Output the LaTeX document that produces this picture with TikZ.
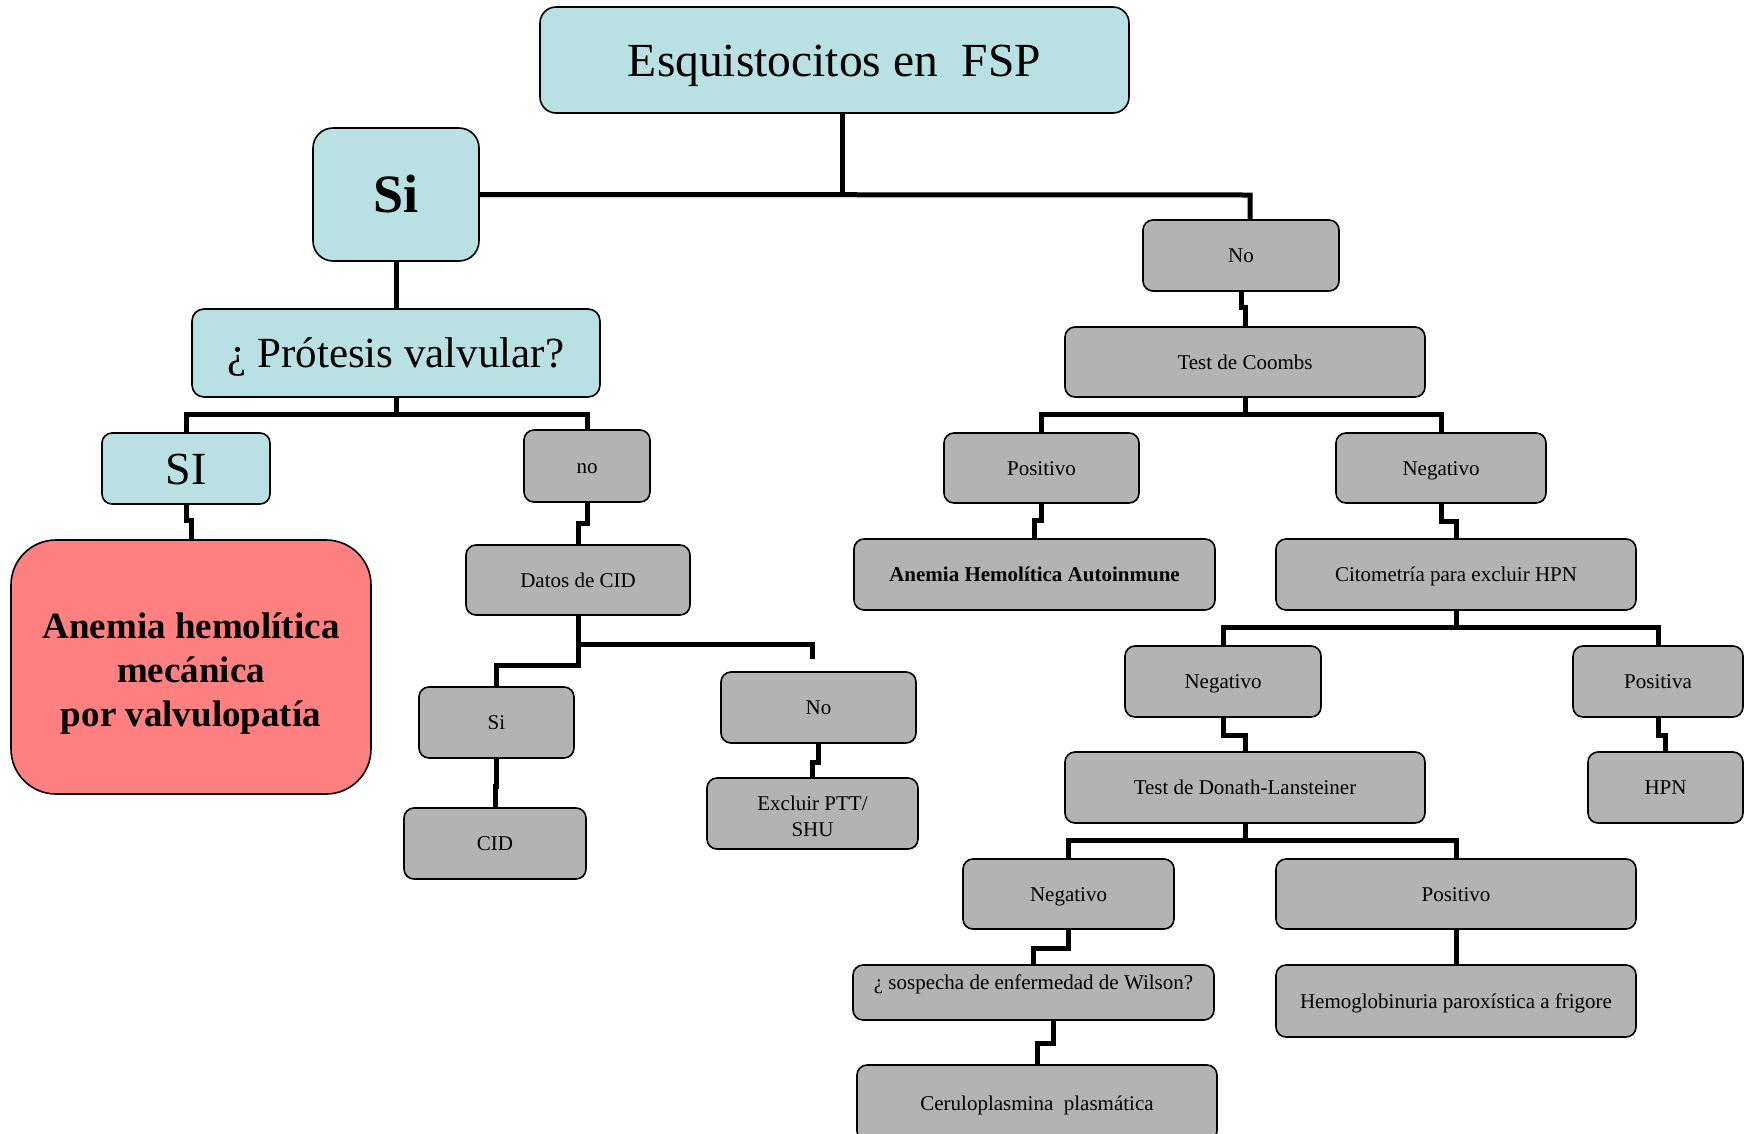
\documentclass[tikz,border=0pt]{standalone}
\usepackage{fontspec}
\setmainfont{Liberation Serif}
\usetikzlibrary{calc}
\definecolor{boxblue}{RGB}{185,224,227}
\definecolor{boxgray}{RGB}{179,179,179}
\definecolor{boxred}{RGB}{255,128,128}
% strut that gives a single line the full ascent/descent of the font
\newcommand{\linestrut}{\rule[-0.216em]{0pt}{1.107em}}

\begin{document}
\begin{tikzpicture}[x=1pt,y=-1pt,
  base/.style={draw=black, line width=1.6pt, inner sep=0pt, align=center,
    font=\fontsize{21}{26}\selectfont},
  line/.style={execute at begin node=\linestrut},
  graybox/.style={base, line, fill=boxgray, rounded corners=10pt},
  bluebox/.style={base, line, fill=boxblue, rounded corners=10pt},
  redbox/.style={base, fill=boxred, rounded corners=45pt},
  plain/.style={inner sep=0pt, align=center, font=\fontsize{21}{26}\selectfont},
  conn/.style={draw=black, line width=5pt, line join=miter}
]
\fill[white] (0,0) rectangle (1749,1133);
\useasboundingbox (0,0) rectangle (1749,1133);

% ---- left branch ----
\node[bluebox, rounded corners=16pt, minimum width=589, minimum height=106,
      font=\fontsize{47.5}{56}\selectfont] (title) at (834.5,60) {Esquistocitos en\ \ FSP};
\node[bluebox, rounded corners=20pt, minimum width=166, minimum height=133,
      font=\fontsize{54}{60}\selectfont\bfseries] (si) at (396,194.5) {Si};
\node[bluebox, rounded corners=12pt, minimum width=408, minimum height=88,
      font=\fontsize{43}{50}\selectfont] (pro) at (396,353) {¿ Prótesis valvular?};
\node[bluebox, minimum width=168, minimum height=71,
      font=\fontsize{46}{52}\selectfont] (SI) at (186,468.5) {SI};
\node[redbox, minimum width=360, minimum height=254] (red) at (191,667) {};
\node[plain, font=\fontsize{37}{44}\selectfont\bfseries] (redtext) at (191,674)
      {Anemia hemolítica\\mecánica\\por valvulopatía};
\node[graybox, minimum width=126, minimum height=72] (no) at (587,466) {no};
\node[graybox, minimum width=224, minimum height=70] (datos) at (578,580) {Datos de CID};
\node[graybox, minimum width=155, minimum height=71] (sis) at (496.5,722.5) {Si};
\node[graybox, minimum width=182, minimum height=71] (cid) at (495,843.5) {CID};
\node[graybox, minimum width=195, minimum height=71] (nos) at (818.5,707.5) {No};
\node[base, fill=boxgray, rounded corners=10pt, minimum width=211, minimum height=71] (exc) at (812.5,813.5) {};
\node[plain] (exctext) at (812.5,816) {Excluir PTT/\\SHU};

% ---- right branch ----
\node[graybox, minimum width=196, minimum height=71] (No) at (1241,255.5) {No};
\node[graybox, minimum width=360, minimum height=70] (coombs) at (1245,362) {Test de Coombs};
\node[graybox, minimum width=195, minimum height=70] (pos) at (1041.5,468) {Positivo};
\node[graybox, minimum width=210, minimum height=70] (neg) at (1441,468) {Negativo};
\node[graybox, minimum width=361, minimum height=71, font=\fontsize{21}{26}\selectfont\bfseries]
      (aha) at (1034.5,574.5) {Anemia Hemolítica Autoinmune};
\node[graybox, minimum width=360, minimum height=71] (cit) at (1456,574.5) {Citometría para excluir HPN};
\node[graybox, minimum width=196, minimum height=71] (neg2) at (1223,681.5) {Negativo};
\node[graybox, minimum width=170, minimum height=71] (posa) at (1658,681.5) {Positiva};
\node[graybox, minimum width=360, minimum height=71] (don) at (1245,787.5) {Test de Donath-Lansteiner};
\node[graybox, minimum width=155, minimum height=71] (hpn) at (1665.5,787.5) {HPN};
\node[graybox, minimum width=211, minimum height=70] (neg3) at (1068.5,894) {Negativo};
\node[graybox, minimum width=360, minimum height=70] (pos3) at (1456,894) {Positivo};
\node[graybox, minimum width=361, minimum height=55] (wil) at (1033.5,992.5) {};
\node[plain, line] (wiltext) at (1033.5,982) {¿ sospecha de enfermedad de Wilson?};
\node[graybox, minimum width=360, minimum height=72] (hem) at (1456,1001) {Hemoglobinuria paroxística a frigore};
\node[graybox, minimum width=360, minimum height=76] (cer) at (1037,1103) {Ceruloplasmina\ \ plasmática};

% ---- connectors ----
\coordinate (tv) at (842,0);
\coordinate (noR) at (1250,195);
\draw[conn] (tv |- title.south) -- (tv |- si.east);
\draw[conn] (si.east) -- (noR) -- (noR |- No.north);
\draw[conn] (si.south) -- (pro.north);

\draw[conn] (pro.south) -- ++(0,17) coordinate (pj);
\draw[conn] (SI.north) |- (pj) -| (no.north);
\draw[conn] (SI.south) -- ++(0,16) -| (red.north);
\draw[conn] (no.south) -- ++(0,21) -| (datos.north);

\coordinate (dfree) at (812,659);
\draw[conn] (datos.south) -- ++(0,50) -| (sis.north);
\draw[conn] ($(datos.south)+(0,29)$) -| (dfree);
\draw[conn] (sis.south) -- ++(0,28) -| (cid.north);
\draw[conn] (nos.south) -- ++(0,19) -| (exc.north);

\draw[conn] (No.south) -- ++(0,16) -| (coombs.north);
\draw[conn] (coombs.south) -- ++(0,17) coordinate (cj);
\draw[conn] (pos.north) |- (cj) -| (neg.north);
\draw[conn] (pos.south) -- ++(0,17) -| (aha.north);
\draw[conn] (neg.south) -- ++(0,18) -| (cit.north);

\draw[conn] (cit.south) -- ++(0,17) coordinate (tj);
\draw[conn] (neg2.north) |- (tj) -| (posa.north);
\draw[conn] (neg2.south) -- ++(0,18) -| (don.north);
\draw[conn] (posa.south) -- ++(0,18) -| (hpn.north);

\draw[conn] (don.south) -- ++(0,17) coordinate (dj);
\draw[conn] (neg3.north) |- (dj) -| (pos3.north);
\draw[conn] (neg3.south) -- ++(0,19) -| (wil.north);
\draw[conn] (pos3.south) -- (hem.north);
\draw[conn] ($(wil.south)+(20,0)$) -- ++(0,23) -| (cer.north);
\end{tikzpicture}
\end{document}
